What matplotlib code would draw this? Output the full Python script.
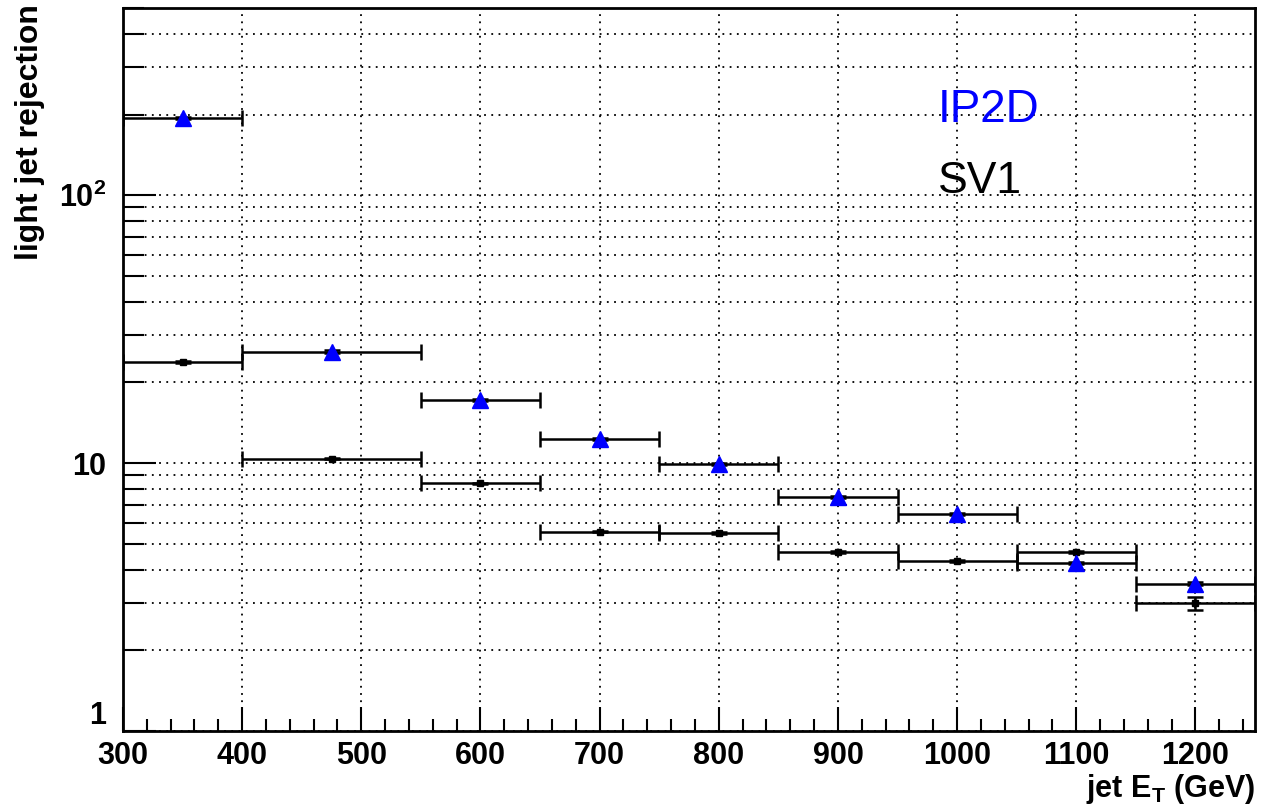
import matplotlib
matplotlib.use('Agg')
import matplotlib.pyplot as plt
from matplotlib.ticker import FixedLocator, MultipleLocator, NullFormatter

plt.rcParams['font.family'] = ['Liberation Sans', 'DejaVu Sans']
plt.rcParams['mathtext.fontset'] = 'custom'
plt.rcParams['mathtext.rm'] = 'Liberation Sans:bold'
plt.rcParams['mathtext.bf'] = 'Liberation Sans:bold'
plt.rcParams['mathtext.it'] = 'Liberation Sans:bold'

# bins in jet ET (GeV)
bin_lo = [300, 400, 550, 650, 750, 850, 950, 1050, 1150]
bin_hi = [400, 550, 650, 750, 850, 950, 1050, 1150, 1250]

# light jet rejection
ip2d = [194.0, 26.1, 17.2, 12.3, 9.9, 7.5, 6.44, 4.23, 3.55]
ip2d_err = [2.0, 0.3, 0.2, 0.1, 0.08, 0.06, 0.05, 0.04, 0.04]
sv1 = [23.8, 10.4, 8.4, 5.55, 5.5, 4.65, 4.32, 4.65, 3.0]
sv1_err = [0.2, 0.08, 0.06, 0.04, 0.04, 0.04, 0.04, 0.05, 0.17]

ytick_vals = [1, 10, 100]
ytick_labels = ['1', '10', r'$10^{2}$']

centers = [(a + b) / 2.0 for a, b in zip(bin_lo, bin_hi)]
half_w = [(b - a) / 2.0 for a, b in zip(bin_lo, bin_hi)]

fig = plt.figure(figsize=(12.65, 8.09), dpi=100)
ax = fig.add_axes([123/1265, 1 - 731/809, (1255-123)/1265, (731-8)/809])

ax.set_yscale('log')
ax.set_xlim(300, 1250)
ax.set_ylim(1, 500)

# grid: ROOT style dotted, y at every tick, x at majors
dot = (0, (1, 3))
ax.set_axisbelow(True)
ax.grid(True, which='both', axis='y', ls=dot, color='k', lw=1.3)
ax.grid(True, which='major', axis='x', ls=dot, color='k', lw=1.3)

ebar = dict(ecolor='k', elinewidth=1.8, capsize=6, capthick=1.8, lw=0)
ax.errorbar(centers, sv1, xerr=half_w, yerr=sv1_err, fmt='s', color='k',
            ms=5, zorder=3, **ebar)
ax.errorbar(centers, ip2d, xerr=half_w, yerr=ip2d_err, fmt='^', color='blue',
            ms=11, zorder=4, **ebar)

# ticks
ax.xaxis.set_major_locator(MultipleLocator(100))
ax.xaxis.set_minor_locator(MultipleLocator(20))
ax.yaxis.set_major_locator(FixedLocator(ytick_vals))
ax.yaxis.set_minor_locator(FixedLocator([m * 10**e for e in range(0, 3) for m in range(2, 10)]))
ax.yaxis.set_minor_formatter(NullFormatter())
ax.set_yticklabels(ytick_labels)

ax.tick_params(axis='x', which='major', direction='in', length=17, width=1.5,
               labelsize=22, pad=7, top=False)
ax.tick_params(axis='x', which='minor', direction='in', length=8.5, width=1.5, top=False)
ax.tick_params(axis='y', which='major', direction='in', length=24, width=1.5,
               labelsize=22, pad=12, right=False)
ax.tick_params(axis='y', which='minor', direction='in', length=15, width=1.5, right=False)
for lab in ax.get_xticklabels() + ax.get_yticklabels():
    lab.set_fontweight('bold')
# "1" sits a little above the axis corner, as in ROOT
ax.get_yticklabels()[0].set_verticalalignment('bottom')

for s in ax.spines.values():
    s.set_linewidth(2)

# labels
ax.text(1.0, -0.057, r'jet E$_{\mathrm{T}}$ (GeV)', transform=ax.transAxes,
        ha='right', va='top', fontsize=22, fontweight='bold')
fig.text(30/1265, 1 - 4/809, 'light jet rejection', rotation=90,
         ha='center', va='top', fontsize=23, fontweight='bold')

# legend text
ax.text(0.72, 0.842, 'IP2D', transform=ax.transAxes, color='blue', fontsize=33)
ax.text(0.72, 0.744, 'SV1', transform=ax.transAxes, color='k', fontsize=32)

fig.savefig('out.png', dpi=100)
